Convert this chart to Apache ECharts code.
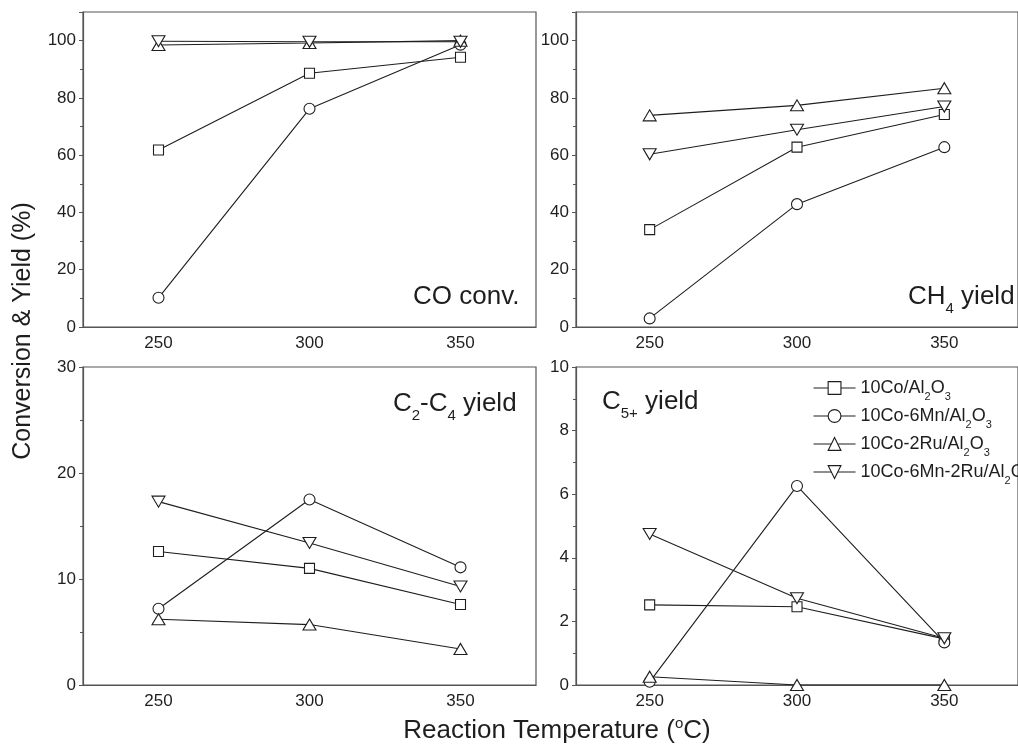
<!DOCTYPE html>
<html>
<head>
<meta charset="utf-8">
<script src="https://cdn.jsdelivr.net/npm/echarts@6/dist/echarts.min.js"></script>
<style>
  html, body { margin: 0; padding: 0; background: #fff; }
  #chart { width: 1018px; height: 746px; }
</style>
</head>
<body>
<div id="chart"></div>
<script>
// reaction temperatures (x categories)
var temps = ['250', '300', '350']
var seriesNames = ['10Co/Al2O3', '10Co-6Mn/Al2O3', '10Co-2Ru/Al2O3', '10Co-6Mn-2Ru/Al2O3']

// one row per catalyst, same order as seriesNames
var coConv = [
  [61.8, 88.6, 94.2],
  [10.2, 76.2, 98.6],
  [98.5, 99.2, 100],
  [99.8, 99.6, 99.6]
]
var ch4Yield = [
  [34.0, 62.8, 74.2],
  [3.0, 42.9, 62.8],
  [73.9, 77.4, 83.4],
  [60.3, 68.9, 77.0]
]
var c2c4Yield = [
  [12.6, 11.0, 7.6],
  [7.2, 17.5, 11.1],
  [6.2, 5.7, 3.4],
  [17.3, 13.4, 9.3]
]
var c5Yield = [
  [2.52, 2.46, 1.45],
  [0.1, 6.26, 1.34],
  [0.26, 0, 0],
  [4.75, 2.73, 1.47]
]

// y axis ranges per panel
var yMax = [110, 110, 30, 10]
var yStep = [20, 20, 10, 2]

var FONT = '"Liberation Sans", Arial, sans-serif'
var INK = '#1e1e1e'
var FRAME = '#555'

var symbols = [
  'rect',
  'circle',
  'path://M5,0 L10,10 L0,10 Z',
  'path://M0,0 L10,0 L5,10 Z'
]
var symbolSizes = [10, 11, [13, 11], [13, 11]]

var grids = [
  { left: 83, top: 12, width: 453, height: 315 },
  { left: 576, top: 12, width: 452, height: 315 },
  { left: 83, top: 367, width: 453, height: 318 },
  { left: 576, top: 367, width: 452, height: 318 }
]
grids.forEach(function(g) {
  g.show = true
  g.borderColor = FRAME
  g.borderWidth = 1.2
  g.backgroundColor = 'transparent'
})

var xAxes = grids.map(function(g, i) {
  return {
    type: 'category',
    gridIndex: i,
    data: temps,
    boundaryGap: true,
    axisLine: { lineStyle: { color: FRAME, width: 1.2 } },
    axisTick: { alignWithLabel: true, inside: true, length: 5, lineStyle: { color: FRAME } },
    axisLabel: { color: INK, fontSize: 17, fontFamily: FONT, margin: 8 },
    splitLine: { show: false }
  }
})

var yAxes = grids.map(function(g, i) {
  return {
    type: 'value',
    gridIndex: i,
    min: 0,
    max: yMax[i],
    interval: yStep[i],
    axisLine: { show: true, lineStyle: { color: FRAME, width: 1.2 } },
    axisTick: { show: true, length: 4, lineStyle: { color: FRAME } },
    minorTick: { show: true, splitNumber: 2, length: 3, lineStyle: { color: FRAME } },
    axisLabel: { color: INK, fontSize: 17, fontFamily: FONT, margin: 7, showMaxLabel: i < 2 ? false : true },
    splitLine: { show: false }
  }
})

var panels = [coConv, ch4Yield, c2c4Yield, c5Yield]
var series = []
panels.forEach(function(panel, p) {
  panel.forEach(function(vals, s) {
    series.push({
      name: seriesNames[s],
      type: 'line',
      xAxisIndex: p,
      yAxisIndex: p,
      data: vals,
      symbol: symbols[s],
      symbolSize: symbolSizes[s],
      showAllSymbol: true,
      lineStyle: { color: INK, width: 1.1 },
      itemStyle: { color: '#fff', borderColor: INK, borderWidth: 1.1 },
      emphasis: { disabled: true },
      animation: false
    })
  })
})

var titleSub = { fontSize: 15, fontFamily: FONT, fill: INK, padding: [23, 0, 0, 0] }

function textItem(x, y, text) {
  return {
    type: 'text',
    x: x,
    y: y,
    style: {
      text: text,
      fontSize: 26,
      fontFamily: FONT,
      fill: INK,
      align: 'left',
      verticalAlign: 'middle',
      rich: { s: titleSub }
    }
  }
}

var chart = echarts.init(document.getElementById('chart'))
chart.setOption({
  animation: false,
  backgroundColor: '#fff',
  grid: grids,
  xAxis: xAxes,
  yAxis: yAxes,
  legend: {
    data: seriesNames,
    orient: 'vertical',
    left: 808,
    top: 374,
    itemWidth: 42,
    itemHeight: 16,
    itemGap: 5,
    itemStyle: { color: '#fff', borderColor: INK, borderWidth: 1.1 },
    lineStyle: { color: INK, width: 1.1 },
    textStyle: {
      color: INK,
      fontSize: 18,
      fontFamily: FONT,
      rich: {
        s: { fontSize: 11, fontFamily: FONT, color: INK, padding: [17, 0, 0, 0] },
        n: { fontSize: 18, fontFamily: FONT, color: INK }
      }
    },
    formatter: function(name) {
      return '{n|' + name.replace('Al2O3', 'Al}{s|2}{n|O}{s|3}')
    }
  },
  graphic: [
    {
      type: 'text',
      x: 23,
      y: 331,
      rotation: Math.PI / 2,
      style: {
        text: 'Conversion & Yield (%)',
        fontSize: 25,
        fontFamily: FONT,
        fill: INK,
        align: 'center',
        verticalAlign: 'middle'
      }
    },
    {
      type: 'text',
      x: 557,
      y: 731,
      style: {
        text: 'Reaction Temperature ({sup|o}C)',
        fontSize: 26,
        fontFamily: FONT,
        fill: INK,
        align: 'center',
        verticalAlign: 'middle',
        rich: { sup: { fontSize: 15, fontFamily: FONT, fill: INK, padding: [0, 0, 14, 0] } }
      }
    },
    textItem(413, 297, 'CO conv.'),
    textItem(908, 297, 'CH{s|4} yield'),
    textItem(393, 404, 'C{s|2}-C{s|4} yield'),
    textItem(602, 402, 'C{s|5+} yield')
  ],
  series: series
})
</script>
</body>
</html>
